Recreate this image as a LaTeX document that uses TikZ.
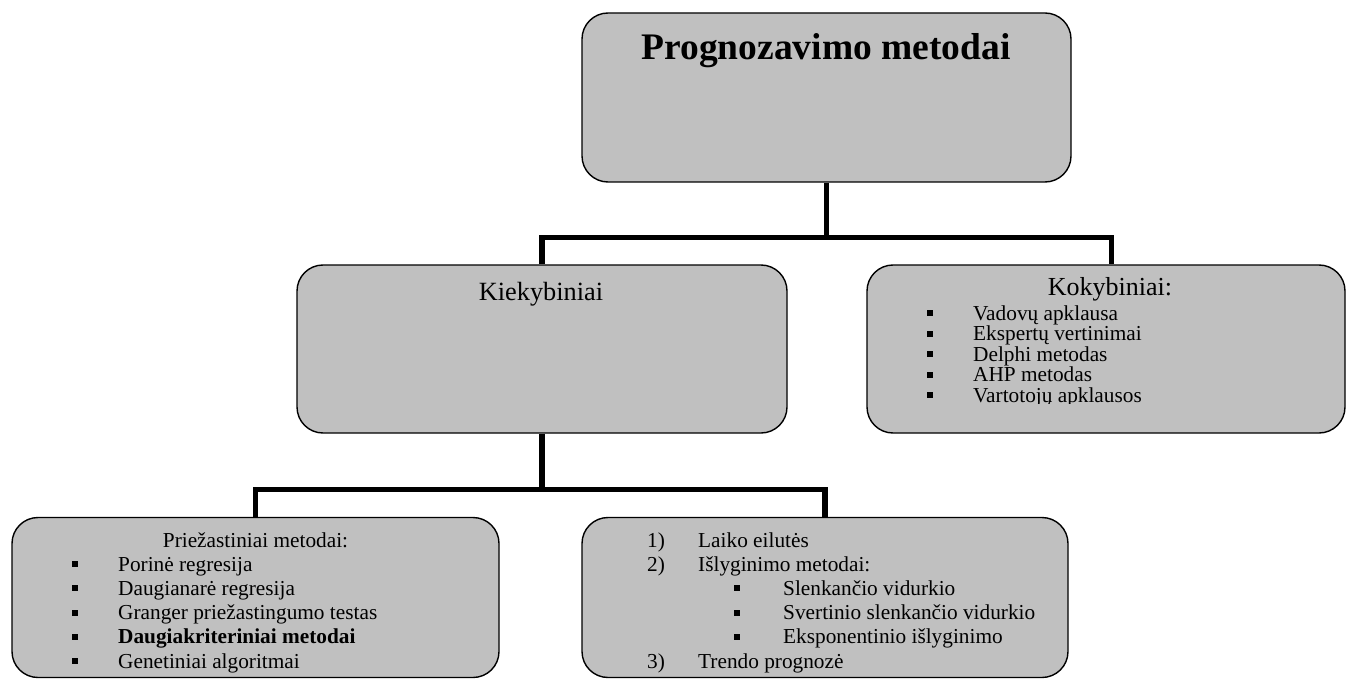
\documentclass[tikz,border=0pt]{standalone}
\usepackage{fontspec}
\setmainfont{Liberation Serif}
\definecolor{boxgray}{HTML}{C0C0C0}
\newcommand\sqbul[2]{\fill (#1-3,#2-10) rectangle (#1+3,#2-4);}
\begin{document}
\begin{tikzpicture}[x=1pt,y=-1pt,
  box/.style={draw=black, line width=1.4pt, fill=boxgray, rounded corners=26pt, inner sep=0pt},
  conn/.style={line width=5.5pt, line join=miter},
  txt/.style={inner sep=0pt, anchor=base west, font=\fontsize{21.3}{24}\selectfont},
  ctxt/.style={inner sep=0pt, anchor=base, font=\fontsize{21.3}{24}\selectfont}]
\useasboundingbox (0,0) rectangle (1346,679);

% boxes
\node[box, minimum width=489pt, minimum height=169pt] (top) at (826.5,97.5) {};
\node[box, minimum width=490pt, minimum height=168pt] (kiek) at (542,349) {};
\node[box, minimum width=478pt, minimum height=168pt] (koky) at (1106,349) {};
\node[box, minimum width=487pt, minimum height=160pt] (bl) at (255.5,597.5) {};
\node[box, minimum width=486pt, minimum height=160pt] (br) at (825,597.5) {};

% connectors
\coordinate (j1) at (826.5,237.5);
\draw[conn] (top.south) -- (j1);
\draw[conn] (kiek.north) |- (j1) -| ([xshift=5.5pt]koky.north);
\coordinate (j2) at (542,489.5);
\draw[conn] (kiek.south) -- (j2);
\draw[conn] (bl.north) |- (j2) -| (br.north);

% titles
\node[inner sep=0pt, anchor=base, font=\bfseries\fontsize{37.5}{40}\selectfont] (ttop) at (826,59.5) {Prognozavimo metodai};
\node[inner sep=0pt, anchor=base, font=\fontsize{26.3}{30}\selectfont] (tkiek) at (541,300.5) {Kiekybiniai};
\node[inner sep=0pt, anchor=base, font=\fontsize{26}{30}\selectfont] (tkoky) at (1110,295) {Kokybiniai:};

% Kokybiniai list
\node[txt] (k1) at (973,320) {Vadovų apklausa};
\node[txt] (k2) at (973,340.5) {Ekspertų vertinimai};
\node[txt] (k3) at (973,361) {Delphi metodas};
\node[txt] (k4) at (973,381.5) {AHP metodas};
\begin{scope}
\clip (860,385) rectangle (1346,403.5);
\node[txt] (k5) at (973,402) {Vartotojų apklausos};
\end{scope}
\sqbul{930}{320}
\sqbul{930}{340.5}
\sqbul{930}{361}
\sqbul{930}{381.5}
\sqbul{930}{402}

% bottom-left list
\node[ctxt] (btitle) at (255.5,547) {Priežastiniai metodai:};
\node[txt] (b1) at (118,571.2) {Porinė regresija};
\node[txt] (b2) at (118,595.4) {Daugianarė regresija};
\node[txt] (b3) at (118,619.6) {Granger priežastingumo testas};
\node[txt, font=\bfseries\fontsize{21.3}{24}\selectfont] (b4) at (118,643.8) {Daugiakriteriniai metodai};
\node[txt] (b5) at (118,668) {Genetiniai algoritmai};
\sqbul{75}{571.2}
\sqbul{75}{595.4}
\sqbul{75}{619.6}
\sqbul{75}{643.8}
\sqbul{75}{668}

% bottom-right list
\node[txt] (n1) at (647,547) {1)};
\node[txt] (r1) at (698,547) {Laiko eilutės};
\node[txt] (n2) at (647,571.2) {2)};
\node[txt] (r2) at (698,571.2) {Išlyginimo metodai:};
\node[txt] (s1) at (783,595.4) {Slenkančio vidurkio};
\node[txt] (s2) at (783,619.6) {Svertinio slenkančio vidurkio};
\node[txt] (s3) at (783,643.8) {Eksponentinio išlyginimo};
\sqbul{737}{595.4}
\sqbul{737}{619.6}
\sqbul{737}{643.8}
\node[txt] (n3) at (647,668) {3)};
\node[txt] (r3) at (698,668) {Trendo prognozė};
\end{tikzpicture}
\end{document}
